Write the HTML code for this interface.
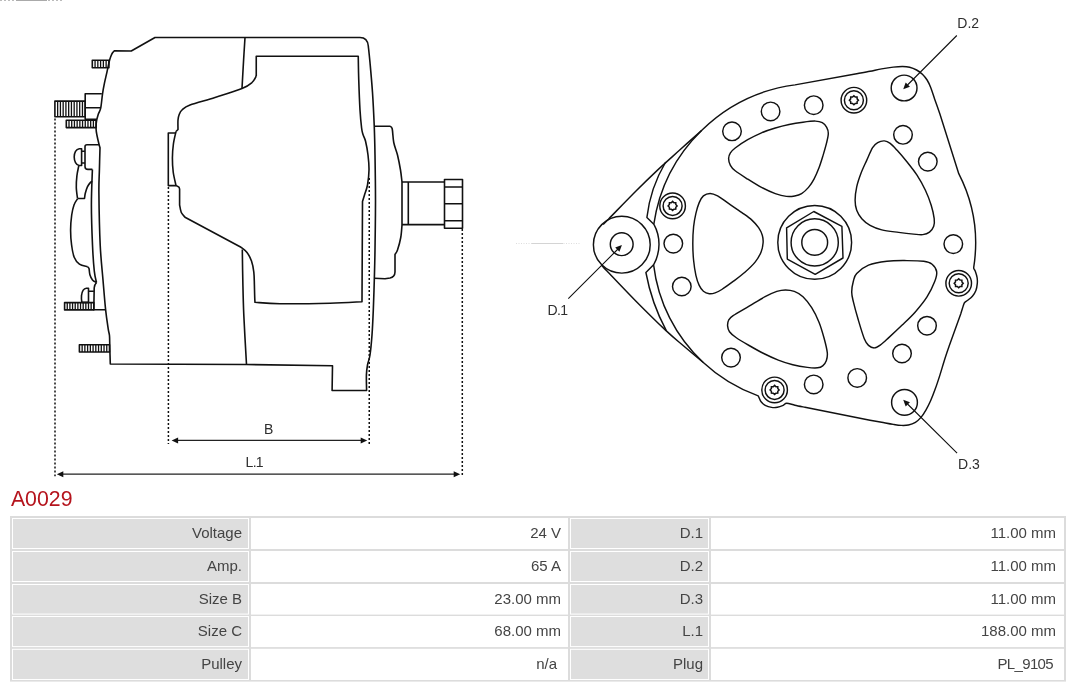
<!DOCTYPE html>
<html><head><meta charset="utf-8"><title>A0029</title>
<style>
html,body{margin:0;padding:0;background:#fff;}
body{width:1080px;height:687px;overflow:hidden;font-family:"Liberation Sans",sans-serif;}
svg{display:block;will-change:transform;}
text{font-family:"Liberation Sans",sans-serif;}
</style></head><body>
<svg width="1080" height="687" viewBox="0 0 1080 687">
<rect width="1080" height="687" fill="#fff"/>
<path d="M0,0.5 H64" stroke="#bbb" stroke-width="1" stroke-dasharray="2 2" fill="none"/>
<path d="M16,0.5 H47" stroke="#aaa" stroke-width="1" fill="none"/>
<path d="M516,243.5 H580" stroke="#ddd" stroke-width="1" stroke-dasharray="1 1.5" fill="none"/>
<path d="M532,243.5 H563" stroke="#d4d4d4" stroke-width="1" fill="none"/>
<g fill="none" stroke="#111" stroke-width="1.6" stroke-linejoin="round" stroke-linecap="butt">
<path d="M110.30,364.00 C110.22,361.25 109.93,352.20 109.80,347.50 C109.67,342.80 109.77,338.92 109.50,335.80 C109.23,332.68 108.85,333.17 108.20,328.80 C107.55,324.43 106.47,317.73 105.60,309.60 C104.73,301.47 103.90,290.77 103.00,280.00 C102.10,269.23 100.88,259.50 100.20,245.00 C99.52,230.50 99.03,205.50 98.90,193.00 C98.77,180.50 99.22,177.53 99.40,170.00 C99.58,162.47 99.90,151.50 100.00,147.80 C99.83,147.22 99.52,146.43 99.00,144.30 C98.48,142.17 97.38,137.52 96.90,135.00 C96.42,132.48 96.18,131.40 96.10,129.20 C96.02,127.00 96.05,124.27 96.40,121.80 C96.75,119.33 97.48,116.67 98.20,114.40 C98.92,112.13 99.97,111.72 100.70,108.20 C101.43,104.68 101.98,97.43 102.60,93.30 C103.22,89.17 103.68,86.90 104.40,83.40 C105.12,79.90 106.05,76.12 106.90,72.30 C107.75,68.48 108.85,63.13 109.50,60.50 C110.15,57.87 110.32,57.75 110.80,56.50 C111.28,55.25 111.82,53.93 112.40,53.00 C112.98,52.07 113.98,51.25 114.30,50.90 L131.25,51 L155,37.5 L360,37.5 Q367.5,37.5 368.3,46 C368.58,48.75 369.30,54.75 370.00,62.50 C370.70,70.25 371.79,81.88 372.50,92.50 C373.21,103.12 373.83,115.83 374.25,126.25 C374.67,136.67 374.79,142.71 375.00,155.00 C375.21,167.29 375.50,184.17 375.50,200.00 C375.50,215.83 375.20,236.67 375.00,250.00 C374.80,263.33 374.58,270.00 374.30,280.00 C374.02,290.00 373.68,300.83 373.30,310.00 C372.92,319.17 372.55,327.50 372.00,335.00 C371.45,342.50 370.75,350.00 370.00,355.00 C369.25,360.00 368.10,361.67 367.50,365.00 C366.90,368.33 366.55,370.75 366.40,375.00 C366.25,379.25 366.57,387.92 366.60,390.50 L332.1,390.5 L332.5,365.8 L246.5,364.5 Z"/>
<path d="M245.00,37.50 C244.77,41.25 244.10,51.50 243.60,60.00 C243.10,68.50 242.27,83.75 242.00,88.50"/>
<path d="M242.30,249.50 C242.38,254.58 242.55,269.08 242.80,280.00 C243.05,290.92 243.18,300.92 243.80,315.00 C244.42,329.08 246.05,356.25 246.50,364.50"/>
<path d="M256.25,76 L256.25,56.25 L358.25,56.25 C358.33,60.21 358.46,71.04 358.75,80.00 C359.04,88.96 359.52,102.00 360.00,110.00 C360.48,118.00 361.10,123.92 361.60,128.00 C362.10,132.08 362.35,132.33 363.00,134.50 C363.65,136.67 364.67,137.58 365.50,141.00 C366.33,144.42 367.42,150.17 368.00,155.00 C368.58,159.83 369.08,165.00 369.00,170.00 C368.92,175.00 368.25,180.83 367.50,185.00 C366.75,189.17 365.33,192.25 364.50,195.00 C363.67,197.75 362.83,200.42 362.50,201.50 L362,301.75 C356.67,302.00 343.67,302.92 330.00,303.25 C316.33,303.58 292.50,303.91 280.00,303.75 C267.50,303.59 259.17,302.54 255.00,302.30 C254.65,299.42 254.55,290.05 254.40,285.00 C254.25,279.95 254.28,276.00 253.80,272.00 C253.32,268.00 252.63,264.25 251.50,261.00 C250.37,257.75 248.75,254.78 247.00,252.50 C245.25,250.22 242.00,248.17 241.00,247.30 L185,217.2 C184.38,216.42 182.20,214.53 181.30,212.50 C180.40,210.47 179.88,206.25 179.60,205.00 L179.6,189 Q179.6,186.8 177.5,186.2 L176,185.6"/>
<path d="M176.00,185.60 C175.53,183.33 173.80,176.60 173.20,172.00 C172.60,167.40 172.37,162.67 172.40,158.00 C172.43,153.33 172.80,148.42 173.40,144.00 C174.00,139.58 175.57,133.58 176.00,131.50"/>
<path d="M176,131.5 L178,129.5 C178.00,127.50 177.80,122.42 178.00,120.00 C178.20,117.58 178.53,116.17 179.20,114.50 C179.87,112.83 180.20,111.58 182.00,110.00 C183.80,108.42 184.50,107.08 190.00,105.00 C195.50,102.92 206.33,100.25 215.00,97.50 C223.67,94.75 235.83,91.00 242.00,88.50 C248.17,86.00 249.62,84.58 252.00,82.50 C254.38,80.42 255.54,77.08 256.25,76.00"/>
<path d="M175.4,133 L168.3,133 L168.3,185.6 L176,185.6"/>
<path d="M374.3,126.25 L390,126.25 C390.37,126.67 391.57,126.04 392.20,128.75 C392.82,131.46 392.87,138.12 393.75,142.50 C394.63,146.88 396.38,150.42 397.50,155.00 C398.62,159.58 399.75,165.50 400.50,170.00 C401.25,174.50 401.75,180.00 402.00,182.00 L402,225 C401.79,227.08 401.50,233.33 400.75,237.50 C400.00,241.67 398.46,247.17 397.50,250.00 C396.54,252.83 395.42,253.75 395.00,254.50 L395,272 Q394.8,277 390,278 L385,278.75 L374.4,278.3"/>
<path d="M402,182 L444.5,182 M402,224.6 L444.5,224.6 M408.3,182 V224.6"/>
<rect x="444.5" y="179.5" width="18" height="48.8"/>
<path d="M444.5,187 H462.5 M444.5,203.8 H462.5 M444.5,220.8 H462.5"/>
<rect x="92.30" y="60.30" width="16.60" height="7.40"/><path d="M95.07,60.30V67.70 M97.83,60.30V67.70 M100.60,60.30V67.70 M103.37,60.30V67.70 M106.13,60.30V67.70" stroke-width="1.3"/>
<rect x="54.90" y="101.10" width="30.30" height="15.70"/><path d="M57.65,101.10V116.80 M60.41,101.10V116.80 M63.16,101.10V116.80 M65.92,101.10V116.80 M68.67,101.10V116.80 M71.43,101.10V116.80 M74.18,101.10V116.80 M76.94,101.10V116.80 M79.69,101.10V116.80 M82.45,101.10V116.80" stroke-width="1.3"/>
<rect x="66.30" y="120.20" width="29.80" height="7.40"/><path d="M69.01,120.20V127.60 M71.72,120.20V127.60 M74.43,120.20V127.60 M77.14,120.20V127.60 M79.85,120.20V127.60 M82.55,120.20V127.60 M85.26,120.20V127.60 M87.97,120.20V127.60 M90.68,120.20V127.60 M93.39,120.20V127.60" stroke-width="1.3"/>
<rect x="64.60" y="302.60" width="29.20" height="7.30"/><path d="M67.25,302.60V309.90 M69.91,302.60V309.90 M72.56,302.60V309.90 M75.22,302.60V309.90 M77.87,302.60V309.90 M80.53,302.60V309.90 M83.18,302.60V309.90 M85.84,302.60V309.90 M88.49,302.60V309.90 M91.15,302.60V309.90" stroke-width="1.3"/>
<rect x="79.40" y="344.80" width="30.10" height="7.20"/><path d="M82.14,344.80V352.00 M84.87,344.80V352.00 M87.61,344.80V352.00 M90.35,344.80V352.00 M93.08,344.80V352.00 M95.82,344.80V352.00 M98.55,344.80V352.00 M101.29,344.80V352.00 M104.03,344.80V352.00 M106.76,344.80V352.00" stroke-width="1.3"/>
<path d="M101.8,93.7 L85.2,93.7 L85.2,119.3 L96.9,119.3 M85.2,107.8 L100.8,107.8"/>
<path d="M99,144.7 L87,144.7 Q85,144.7 85,146.7 L85,166.4 Q85,169.4 88,169.4 L92.4,169.4"/>
<path d="M92.40,169.40 C92.23,175.33 91.38,192.40 91.40,205.00 C91.42,217.60 92.02,233.97 92.50,245.00 C92.98,256.03 93.63,264.95 94.30,271.20 C94.97,277.45 96.13,280.62 96.50,282.50"/>
<path d="M96.5,282.5 Q94.2,285 94.2,288 L93.8,309.8 L105.6,309.8"/>
<path d="M81.6,148.7 L81.6,165.5 L79.2,165.5 C76,165 74.2,161 74.2,157.1 C74.2,153 76,149 79.2,148.7 Z M81.6,151.3 H85 M81.6,163 H85"/>
<path d="M78.80,165.70 C78.48,167.38 77.32,172.18 76.90,175.80 C76.48,179.42 76.20,183.62 76.30,187.40 C76.40,191.18 77.30,196.65 77.50,198.50"/>
<path d="M77.5,198.5 L84.5,198.5 C84.63,197.63 84.82,195.25 85.30,193.30 C85.78,191.35 86.57,188.58 87.40,186.80 C88.23,185.02 89.48,183.52 90.30,182.60 C91.12,181.68 91.97,181.52 92.30,181.30"/>
<path d="M77.50,198.80 C76.92,199.82 74.97,202.20 74.00,204.90 C73.03,207.60 72.27,210.82 71.70,215.00 C71.13,219.18 70.62,225.00 70.60,230.00 C70.58,235.00 71.00,240.47 71.60,245.00 C72.20,249.53 72.90,254.00 74.20,257.20 C75.50,260.40 77.22,262.63 79.40,264.20 C81.58,265.77 85.98,266.20 87.30,266.60"/>
<path d="M87.30,266.60 C87.58,266.93 88.57,267.25 89.00,268.60 C89.43,269.95 89.32,272.82 89.90,274.70 C90.48,276.58 91.40,278.60 92.50,279.90 C93.60,281.20 95.83,282.07 96.50,282.50"/>
<path d="M88.5,288.3 L88.5,302.4 L81.9,302.4 C81.3,300 81.3,298 81.5,295.6 C82,291.5 84,288.6 86.4,288.3 Z M88.5,291.3 H93.9"/>
</g>
<g fill="none" stroke="#111" stroke-width="1.5" stroke-dasharray="2 2">
<path d="M55,118.5 V476.3 M168.4,187 V444 M369.25,178 V445.3 M462.3,229 V476.3"/>
</g>
<g fill="none" stroke="#222" stroke-width="1.2">
<path d="M176,440.4 H362 M62,474.2 H455"/>
<path d="M171.60,440.40 L178.10,437.40 L178.10,443.40 Z" fill="#111" stroke="none"/>
<path d="M367.20,440.40 L360.70,443.40 L360.70,437.40 Z" fill="#111" stroke="none"/>
<path d="M56.80,474.20 L63.30,471.20 L63.30,477.20 Z" fill="#111" stroke="none"/>
<path d="M460.20,474.20 L453.70,477.20 L453.70,471.20 Z" fill="#111" stroke="none"/>
</g>
<g fill="none" stroke="#111" stroke-width="1.45" stroke-linejoin="round">
<path d="M603.20,224.40 C604.12,223.48 603.23,224.47 608.70,218.90 C614.17,213.33 627.95,199.05 636.00,191.00 C644.05,182.95 649.67,177.47 657.00,170.60 C664.33,163.73 672.53,156.54 680.00,149.80 C687.47,143.06 698.17,133.44 701.80,130.17 A164.69,164.69 0 0 1 795.00,84.85 L858.00,73.50 C860.00,73.13 866.07,72.07 870.00,71.30 C873.93,70.53 877.72,69.60 881.60,68.90 C885.48,68.20 889.80,67.50 893.30,67.10 C896.80,66.70 899.88,66.48 902.60,66.50 C905.32,66.52 907.27,66.62 909.60,67.20 C911.93,67.78 914.47,68.83 916.60,70.00 C918.73,71.17 920.65,72.53 922.40,74.20 C924.15,75.87 925.73,77.82 927.10,80.00 C928.47,82.18 929.35,84.15 930.60,87.30 C931.85,90.45 933.05,94.45 934.60,98.90 C936.15,103.35 939.02,111.48 939.90,114.00 L958.76,173.70 A153.09,153.09 0 0 1 973.71,267.40 C973.74,267.63 973.64,268.17 973.90,268.80 C974.16,269.43 974.77,269.73 975.30,271.20 C975.83,272.67 976.77,275.57 977.10,277.60 C977.43,279.63 977.50,281.27 977.30,283.40 C977.10,285.53 976.72,288.27 975.90,290.40 C975.08,292.53 973.77,294.55 972.40,296.20 C971.03,297.85 968.95,299.28 967.70,300.30 C966.45,301.32 965.57,301.62 964.90,302.30 C964.23,302.98 964.38,302.50 963.70,304.40 C963.02,306.30 961.28,312.15 960.80,313.70 L949.00,346.50 C948.25,348.75 946.02,355.23 944.50,360.00 C942.98,364.77 941.45,370.25 939.90,375.10 C938.35,379.95 936.75,384.82 935.20,389.10 C933.65,393.38 932.15,397.30 930.60,400.80 C929.05,404.30 927.47,407.38 925.90,410.10 C924.33,412.82 922.95,415.07 921.20,417.10 C919.45,419.13 917.53,420.98 915.40,422.30 C913.27,423.62 910.73,424.48 908.40,425.00 C906.07,425.52 903.92,425.50 901.40,425.40 C898.88,425.30 896.60,424.92 893.30,424.40 C890.00,423.88 885.48,423.00 881.60,422.30 C877.72,421.60 871.93,420.55 870.00,420.20 L805.00,407.30 C803.32,406.95 797.95,405.87 794.90,405.20 C791.85,404.53 788.65,403.28 786.70,403.30 C784.75,403.32 784.75,404.63 783.20,405.30 C781.65,405.97 779.33,406.95 777.40,407.30 C775.47,407.65 773.63,407.73 771.60,407.40 C769.57,407.07 766.95,406.23 765.20,405.30 C763.45,404.37 762.12,403.07 761.10,401.80 C760.08,400.53 759.58,398.69 759.10,397.70 C758.62,396.71 758.35,396.16 758.20,395.85 A158.97,158.97 0 0 1 703.00,362.28 C699.83,359.60 690.12,351.43 684.00,346.20 C677.88,340.97 674.30,338.40 666.30,330.90 C658.30,323.40 645.88,311.18 636.00,301.20 C626.12,291.22 612.70,276.95 607.00,271.00 C601.30,265.05 602.67,266.42 601.80,265.50"/>
<circle cx="621.80" cy="244.70" r="28.40"/>
<circle cx="621.7" cy="244.2" r="11.4"/>
<path d="M701.80,130.17 A164.69,164.69 0 0 0 653.82,224.18 A41.7,41.7 0 0 1 653.61,264.81 A158.97,158.97 0 0 0 703.00,362.28"/>
<path d="M665.7,162 A140.42,140.42 0 0 0 646.9,217.4 L653.82,224.18"/>
<path d="M666.3,330.7 A201,201 0 0 1 645.9,272.5 L653.61,264.81"/>
<circle cx="732.00" cy="131.30" r="9.3"/>
<circle cx="770.60" cy="111.40" r="9.3"/>
<circle cx="813.70" cy="105.20" r="9.3"/>
<circle cx="903.00" cy="134.80" r="9.3"/>
<circle cx="927.80" cy="161.60" r="9.3"/>
<circle cx="953.30" cy="244.10" r="9.3"/>
<circle cx="927.00" cy="325.70" r="9.3"/>
<circle cx="902.00" cy="353.50" r="9.3"/>
<circle cx="857.20" cy="377.90" r="9.3"/>
<circle cx="813.70" cy="384.40" r="9.3"/>
<circle cx="731.00" cy="357.60" r="9.3"/>
<circle cx="681.80" cy="286.50" r="9.3"/>
<circle cx="673.30" cy="243.60" r="9.3"/>
<circle cx="904.10" cy="88.00" r="12.9"/>
<circle cx="904.50" cy="402.40" r="12.9"/>
<circle cx="672.60" cy="205.90" r="12.8"/>
<circle cx="672.60" cy="205.90" r="9.5"/>
<path d="M672.60,201.40 L673.94,202.67 L675.78,202.72 L675.83,204.56 L677.10,205.90 L675.83,207.24 L675.78,209.08 L673.94,209.13 L672.60,210.40 L671.26,209.13 L669.42,209.08 L669.37,207.24 L668.10,205.90 L669.37,204.56 L669.42,202.72 L671.26,202.67 Z" stroke-width="1.5" stroke-linejoin="miter"/>
<circle cx="853.90" cy="100.20" r="12.8"/>
<circle cx="853.90" cy="100.20" r="9.5"/>
<path d="M853.90,95.70 L855.24,96.97 L857.08,97.02 L857.13,98.86 L858.40,100.20 L857.13,101.54 L857.08,103.38 L855.24,103.43 L853.90,104.70 L852.56,103.43 L850.72,103.38 L850.67,101.54 L849.40,100.20 L850.67,98.86 L850.72,97.02 L852.56,96.97 Z" stroke-width="1.5" stroke-linejoin="miter"/>
<circle cx="958.70" cy="283.30" r="12.8"/>
<circle cx="958.70" cy="283.30" r="9.5"/>
<path d="M958.70,278.80 L960.04,280.07 L961.88,280.12 L961.93,281.96 L963.20,283.30 L961.93,284.64 L961.88,286.48 L960.04,286.53 L958.70,287.80 L957.36,286.53 L955.52,286.48 L955.47,284.64 L954.20,283.30 L955.47,281.96 L955.52,280.12 L957.36,280.07 Z" stroke-width="1.5" stroke-linejoin="miter"/>
<circle cx="774.60" cy="389.90" r="12.8"/>
<circle cx="774.60" cy="389.90" r="9.5"/>
<path d="M774.60,385.40 L775.94,386.67 L777.78,386.72 L777.83,388.56 L779.10,389.90 L777.83,391.24 L777.78,393.08 L775.94,393.13 L774.60,394.40 L773.26,393.13 L771.42,393.08 L771.37,391.24 L770.10,389.90 L771.37,388.56 L771.42,386.72 L773.26,386.67 Z" stroke-width="1.5" stroke-linejoin="miter"/>
<circle cx="814.70" cy="242.40" r="36.9"/>
<circle cx="814.70" cy="242.40" r="23.6"/>
<circle cx="814.70" cy="242.40" r="12.9"/>
<path d="M813.80,211.50 L841.90,226.30 L843.00,258.00 L815.20,274.30 L787.30,259.10 L786.60,227.80 Z"/>
<path d="M728.60,158.40 C728.60,156.33 729.30,154.63 730.40,152.90 C731.50,151.17 732.32,150.20 735.20,148.00 C738.08,145.80 743.32,142.23 747.70,139.70 C752.08,137.17 756.90,134.75 761.50,132.80 C766.10,130.85 770.70,129.38 775.30,128.00 C779.90,126.62 784.48,125.47 789.10,124.50 C793.72,123.53 798.62,122.77 803.00,122.20 C807.38,121.63 812.18,121.02 815.40,121.10 C818.62,121.18 820.42,121.67 822.30,122.70 C824.18,123.73 825.70,125.50 826.70,127.30 C827.70,129.10 828.33,130.85 828.30,133.50 C828.27,136.15 827.38,139.52 826.50,143.20 C825.62,146.88 824.27,151.45 823.00,155.60 C821.73,159.75 820.40,164.18 818.90,168.10 C817.40,172.02 815.73,175.88 814.00,179.10 C812.27,182.32 810.57,184.98 808.50,187.40 C806.43,189.82 803.90,192.17 801.60,193.60 C799.30,195.03 797.23,195.53 794.70,196.00 C792.17,196.47 789.63,196.80 786.40,196.40 C783.17,196.00 779.45,195.10 775.30,193.60 C771.15,192.10 766.10,189.82 761.50,187.40 C756.90,184.98 752.08,181.87 747.70,179.10 C743.32,176.33 738.08,173.10 735.20,170.80 C732.32,168.50 731.50,167.37 730.40,165.30 C729.30,163.23 728.60,160.47 728.60,158.40 Z"/>
<path d="M884.40,140.90 C886.48,141.03 888.12,141.87 890.20,143.40 C892.28,144.93 894.12,147.03 896.90,150.10 C899.68,153.17 903.55,157.62 906.90,161.80 C910.25,165.98 913.92,170.45 917.00,175.20 C920.08,179.95 923.03,185.28 925.40,190.30 C927.77,195.32 929.73,200.57 931.20,205.30 C932.67,210.03 933.78,215.22 934.20,218.70 C934.62,222.18 934.48,223.97 933.70,226.20 C932.92,228.43 931.32,230.70 929.50,232.10 C927.68,233.50 925.45,234.27 922.80,234.60 C920.15,234.93 917.63,234.47 913.60,234.10 C909.57,233.73 903.90,233.10 898.60,232.40 C893.30,231.70 886.55,231.07 881.80,229.90 C877.05,228.73 873.43,227.27 870.10,225.40 C866.77,223.53 864.03,221.22 861.80,218.70 C859.57,216.18 857.82,213.37 856.70,210.30 C855.58,207.23 855.10,204.20 855.10,200.30 C855.10,196.40 855.73,191.37 856.70,186.90 C857.67,182.43 859.22,177.97 860.90,173.50 C862.58,169.03 864.85,164.42 866.80,160.10 C868.75,155.78 870.78,150.52 872.60,147.60 C874.42,144.68 875.73,143.72 877.70,142.60 C879.67,141.48 882.32,140.77 884.40,140.90 Z"/>
<path d="M851.70,291.90 C851.70,288.42 852.57,284.07 853.40,281.00 C854.23,277.93 854.18,276.15 856.70,273.50 C859.22,270.85 863.47,267.15 868.50,265.10 C873.53,263.05 880.50,261.95 886.90,261.20 C893.30,260.45 900.77,260.60 906.90,260.60 C913.03,260.60 919.50,260.60 923.70,261.20 C927.90,261.80 929.93,262.43 932.10,264.20 C934.27,265.97 936.28,268.87 936.70,271.80 C937.12,274.73 936.22,277.62 934.60,281.80 C932.98,285.98 930.22,291.88 927.00,296.90 C923.78,301.92 919.48,307.17 915.30,311.90 C911.12,316.63 906.37,320.97 901.90,325.30 C897.43,329.63 892.12,334.60 888.50,337.90 C884.88,341.20 882.57,343.43 880.20,345.10 C877.83,346.77 876.25,347.85 874.30,347.90 C872.35,347.95 870.17,346.93 868.50,345.40 C866.83,343.87 865.98,342.88 864.30,338.70 C862.62,334.52 860.22,326.43 858.40,320.30 C856.58,314.17 854.52,306.63 853.40,301.90 C852.28,297.17 851.70,295.38 851.70,291.90 Z"/>
<path d="M727.60,325.90 C727.47,323.95 727.78,321.70 728.70,320.00 C729.62,318.30 729.70,318.00 733.10,315.70 C736.50,313.40 743.77,309.37 749.10,306.20 C754.43,303.03 760.48,299.17 765.10,296.70 C769.72,294.23 773.40,292.53 776.80,291.40 C780.20,290.27 782.58,289.90 785.50,289.90 C788.42,289.90 791.38,290.27 794.30,291.40 C797.22,292.53 800.10,293.98 803.00,296.70 C805.90,299.42 809.03,303.45 811.70,307.70 C814.37,311.95 816.93,317.10 819.00,322.20 C821.07,327.30 822.72,333.20 824.10,338.30 C825.48,343.40 826.93,349.05 827.30,352.80 C827.67,356.55 827.07,358.62 826.30,360.80 C825.53,362.98 824.15,364.73 822.70,365.90 C821.25,367.07 820.15,367.55 817.60,367.80 C815.05,368.05 811.53,367.90 807.40,367.40 C803.27,366.90 797.65,366.02 792.80,364.80 C787.95,363.58 783.15,361.98 778.30,360.10 C773.45,358.22 768.57,355.93 763.70,353.50 C758.83,351.07 753.72,348.17 749.10,345.50 C744.48,342.83 739.27,339.80 736.00,337.50 C732.73,335.20 730.90,333.63 729.50,331.70 C728.10,329.77 727.73,327.85 727.60,325.90 Z"/>
<path d="M692.80,243.50 C692.80,237.92 693.08,231.82 693.60,226.80 C694.12,221.78 694.97,217.43 695.90,213.40 C696.83,209.37 697.95,205.52 699.20,202.60 C700.45,199.68 701.58,197.43 703.40,195.90 C705.22,194.37 707.73,193.40 710.10,193.40 C712.47,193.40 714.53,194.23 717.60,195.90 C720.67,197.57 724.45,200.62 728.50,203.40 C732.55,206.18 738.00,209.82 741.90,212.60 C745.80,215.38 749.12,217.58 751.90,220.10 C754.68,222.62 756.87,225.18 758.60,227.70 C760.33,230.22 761.55,232.70 762.30,235.20 C763.05,237.70 763.30,239.92 763.10,242.70 C762.90,245.48 762.40,248.70 761.10,251.90 C759.80,255.10 757.95,258.55 755.30,261.90 C752.65,265.25 748.83,268.78 745.20,272.00 C741.57,275.22 737.40,278.28 733.50,281.20 C729.60,284.12 724.87,287.55 721.80,289.50 C718.73,291.45 717.18,292.20 715.10,292.90 C713.02,293.60 711.25,293.98 709.30,293.70 C707.35,293.42 705.08,292.58 703.40,291.20 C701.72,289.82 700.45,288.05 699.20,285.40 C697.95,282.75 696.83,279.48 695.90,275.30 C694.97,271.12 694.12,265.60 693.60,260.30 C693.08,255.00 692.80,249.08 692.80,243.50 Z"/>
<path d="M568.3,298.7 L618,249 M956.8,35.5 L907.5,85 M957.1,453.2 L907.5,404" stroke-width="1.1"/>
</g>
<path d="M621.90,245.10 L619.43,251.82 L615.18,247.57 Z" fill="#111" stroke="none"/>
<path d="M903.20,89.20 L905.67,82.48 L909.92,86.72 Z" fill="#111" stroke="none"/>
<path d="M903.20,399.80 L909.93,402.24 L905.71,406.51 Z" fill="#111" stroke="none"/>
<g font-size="14" fill="#2e2e2e">
<text x="264" y="433.5">B</text>
<text x="245.6" y="466.5" letter-spacing="-0.7">L.1</text>
<text x="547.4" y="315" letter-spacing="-0.6">D.1</text>
<text x="957.3" y="28.1" letter-spacing="0">D.2</text>
<text x="958.1" y="468.5" letter-spacing="0">D.3</text>
</g>
<text x="10.9" y="506.1" font-size="22" fill="#b5141d" textLength="61.6" lengthAdjust="spacingAndGlyphs">A0029</text>
<rect x="10" y="516" width="1056" height="165.6" fill="#dcdcdc"/>
<rect x="12" y="518" width="237" height="31" fill="#fff"/>
<rect x="13" y="519" width="235" height="29" fill="#dedede"/>
<rect x="251" y="518" width="317" height="31" fill="#fff"/>
<rect x="570" y="518" width="139" height="31" fill="#fff"/>
<rect x="571" y="519" width="137" height="29" fill="#dedede"/>
<rect x="711" y="518" width="353" height="31" fill="#fff"/>
<rect x="12" y="551" width="237" height="31" fill="#fff"/>
<rect x="13" y="552" width="235" height="29" fill="#dedede"/>
<rect x="251" y="551" width="317" height="31" fill="#fff"/>
<rect x="570" y="551" width="139" height="31" fill="#fff"/>
<rect x="571" y="552" width="137" height="29" fill="#dedede"/>
<rect x="711" y="551" width="353" height="31" fill="#fff"/>
<rect x="12" y="584" width="237" height="30.6" fill="#fff"/>
<rect x="13" y="585" width="235" height="28.6" fill="#dedede"/>
<rect x="251" y="584" width="317" height="30.6" fill="#fff"/>
<rect x="570" y="584" width="139" height="30.6" fill="#fff"/>
<rect x="571" y="585" width="137" height="28.6" fill="#dedede"/>
<rect x="711" y="584" width="353" height="30.6" fill="#fff"/>
<rect x="12" y="616" width="237" height="31.1" fill="#fff"/>
<rect x="13" y="617" width="235" height="29.1" fill="#dedede"/>
<rect x="251" y="616" width="317" height="31.1" fill="#fff"/>
<rect x="570" y="616" width="139" height="31.1" fill="#fff"/>
<rect x="571" y="617" width="137" height="29.1" fill="#dedede"/>
<rect x="711" y="616" width="353" height="31.1" fill="#fff"/>
<rect x="12" y="648.8" width="237" height="31.2" fill="#fff"/>
<rect x="13" y="649.8" width="235" height="29.2" fill="#dedede"/>
<rect x="251" y="648.8" width="317" height="31.2" fill="#fff"/>
<rect x="570" y="648.8" width="139" height="31.2" fill="#fff"/>
<rect x="571" y="649.8" width="137" height="29.2" fill="#dedede"/>
<rect x="711" y="648.8" width="353" height="31.2" fill="#fff"/>
<g font-size="15" fill="#444" text-anchor="end">
<text x="242" y="538.0">Voltage</text>
<text x="561" y="538.0">24 V</text>
<text x="703" y="538.0">D.1</text>
<text x="1056" y="538.0">11.00 mm</text>
<text x="242" y="571.0">Amp.</text>
<text x="561" y="571.0">65 A</text>
<text x="703" y="571.0">D.2</text>
<text x="1056" y="571.0">11.00 mm</text>
<text x="242" y="603.8">Size B</text>
<text x="561" y="603.8">23.00 mm</text>
<text x="703" y="603.8">D.3</text>
<text x="1056" y="603.8">11.00 mm</text>
<text x="242" y="636.0">Size C</text>
<text x="561" y="636.0">68.00 mm</text>
<text x="703" y="636.0">L.1</text>
<text x="1056" y="636.0">188.00 mm</text>
<text x="242" y="668.9">Pulley</text>
<text x="557" y="668.9">n/a</text>
<text x="703" y="668.9">Plug</text>
<text x="1053" y="668.9" letter-spacing="-0.65">PL_9105</text>
</g>
</svg>
</body></html>
